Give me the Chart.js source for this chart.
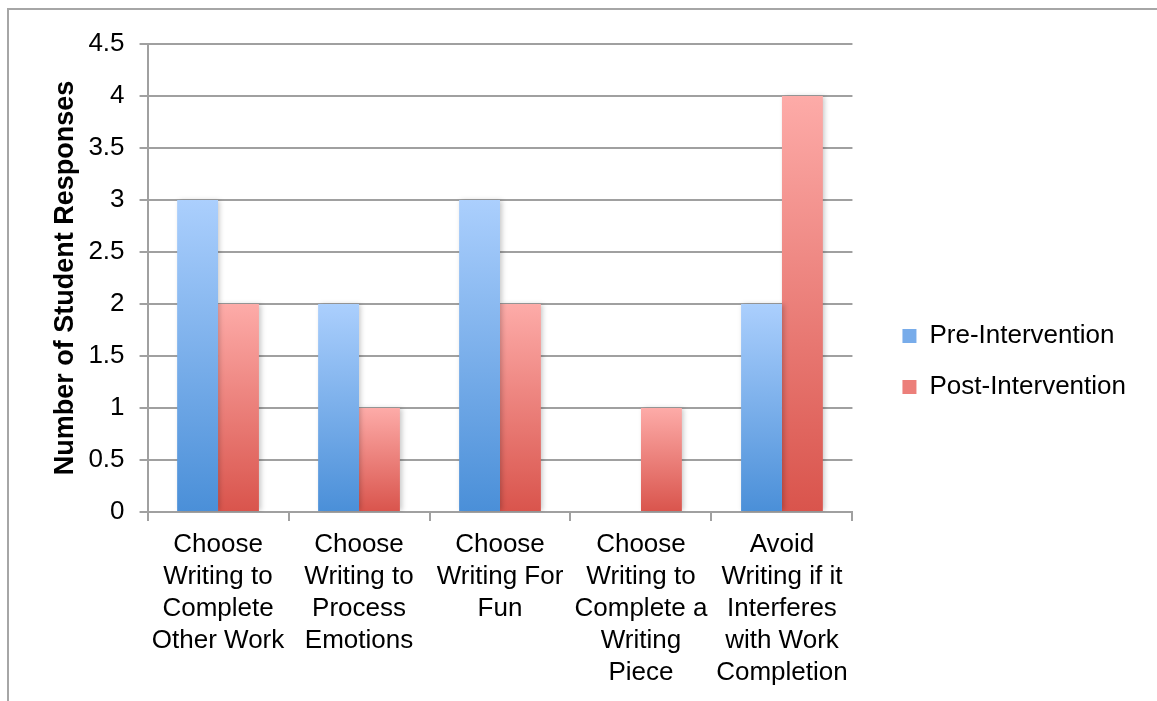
<!DOCTYPE html>
<html>
<head>
<meta charset="utf-8">
<script src="https://cdn.jsdelivr.net/npm/chart.js@4.4.1/dist/chart.umd.min.js"></script>
<style>
  html, body { margin: 0; padding: 0; background: #fff; }
  #wrap { position: relative; width: 1157px; height: 701px; }
  #frame { position: absolute; left: 7px; top: 8px; right: -10px; bottom: -10px;
           border-left: 2px solid #a6a6a6; border-top: 2px solid #a6a6a6; }
  canvas { position: absolute; left: 0; top: 0; }
</style>
</head>
<body>
<div id="wrap">
  <div id="frame"></div>
  <canvas id="chart" width="1157" height="701"></canvas>
</div>
<script>
const categories = [
    ["Choose", "Writing to", "Complete", "Other Work"],
    ["Choose", "Writing to", "Process", "Emotions"],
    ["Choose", "Writing For", "Fun"],
    ["Choose", "Writing to", "Complete a", "Writing", "Piece"],
    ["Avoid", "Writing if it", "Interferes", "with Work", "Completion"]
];
const preValues = [3, 2, 3, 0, 2];
const postValues = [2, 1, 2, 1, 4];
const seriesNames = ["Pre-Intervention", "Post-Intervention"];

const fontFamily = '"Liberation Sans", Arial, sans-serif';

// each bar gets its own vertical gradient, light on top
const barGradient = (top, bottom) => (ctx) => {
    const chart = ctx.chart;
    const yScale = chart.scales.y;
    if (!yScale || ctx.type !== 'data') return bottom;
    const yTop = yScale.getPixelForValue(ctx.parsed.y);
    const yBase = yScale.getPixelForValue(0);
    if (!isFinite(yTop) || yTop === yBase) return bottom;
    const g = chart.ctx.createLinearGradient(0, yTop, 0, yBase);
    g.addColorStop(0, top);
    g.addColorStop(1, bottom);
    return g;
}

const shadowPlugin = {
    id: 'barShadow',
    beforeDatasetsDraw(chart) {
        const c = chart.ctx;
        c.save();
        c.shadowColor = 'rgba(0,0,0,0.22)';
        c.shadowBlur = 5;
        c.shadowOffsetX = 2;
        c.shadowOffsetY = 0;
    },
    afterDatasetsDraw(chart) {
        chart.ctx.restore();
    }
}

// push the legend a bit away from the plot, like the original
const legendShift = { x: 25, y: -9 };
const legendGapPlugin = {
    id: 'legendGap',
    beforeInit(chart) {
        const legend = chart.legend;
        if (!legend) return;
        const fit = legend.fit;
        legend.fit = function () {
            fit.call(this);
            this.width += legendShift.x;
        };
        const draw = legend.draw;
        legend.draw = function () {
            const c = this.ctx;
            c.save();
            c.translate(legendShift.x, legendShift.y);
            draw.call(this);
            c.restore();
        };
    }
}

const legendColors = ["#78acea", "#ec7f7a"];

new Chart(document.getElementById("chart"), {
    type: "bar",
    data: {
        labels: categories,
        datasets: [
            {
                label: seriesNames[0],
                data: preValues,
                backgroundColor: barGradient("#abcffd", "#4a8fd8"),
                categoryPercentage: 0.58,
                barPercentage: 1.0
            },
            {
                label: seriesNames[1],
                data: postValues,
                backgroundColor: barGradient("#fdaba8", "#d9544c"),
                categoryPercentage: 0.58,
                barPercentage: 1.0
            }
        ]
    },
    plugins: [shadowPlugin, legendGapPlugin],
    options: {
        responsive: false,
        animation: false,
        layout: { padding: { left: 49, top: 44, right: 21, bottom: 4 } },
        plugins: {
            tooltip: { enabled: false },
            legend: {
                position: "right",
                align: "center",
                labels: {
                    color: "#000",
                    font: { family: fontFamily, size: 26 },
                    boxWidth: 14,
                    boxHeight: 14,
                    padding: 25,
                    generateLabels: (chart) => chart.data.datasets.map((ds, i) => ({
                        text: ds.label,
                        fillStyle: legendColors[i],
                        strokeStyle: legendColors[i],
                        lineWidth: 0,
                        datasetIndex: i
                    }))
                }
            }
        },
        scales: {
            x: {
                grid: {
                    offset: true,
                    drawOnChartArea: false,
                    drawTicks: true,
                    tickLength: 9,
                    color: "#a0a0a0",
                    lineWidth: 2
                },
                border: { color: "#a0a0a0", width: 2 },
                ticks: {
                    color: "#000",
                    maxRotation: 0,
                    autoSkip: false,
                    padding: 8,
                    font: { family: fontFamily, size: 26, lineHeight: 1.23 }
                }
            },
            y: {
                min: 0,
                max: 4.5,
                ticks: {
                    stepSize: 0.5,
                    color: "#000",
                    padding: 15,
                    font: { family: fontFamily, size: 26 },
                    callback: (v) => String(v)
                },
                grid: {
                    color: "#a0a0a0",
                    lineWidth: 2,
                    tickLength: 8
                },
                border: { color: "#a0a0a0", width: 2 },
                title: {
                    display: true,
                    text: "Number of Student Responses",
                    color: "#000",
                    font: { family: fontFamily, size: 27, weight: "bold" },
                    padding: { top: 0, bottom: -8 }
                }
            }
        }
    }
});
</script>
</body>
</html>
